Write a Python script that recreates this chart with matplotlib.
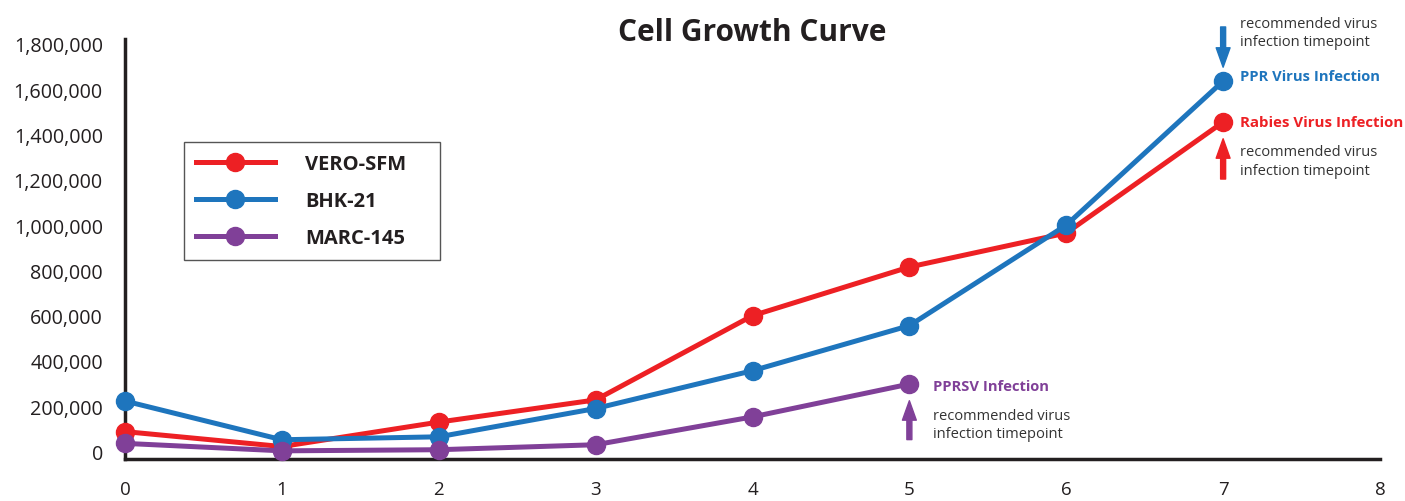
import matplotlib.pyplot as plt
from matplotlib.ticker import FuncFormatter

# days (x) and cell counts (y)
days = [0, 1, 2, 3, 4, 5, 6, 7]
vero_sfm = [88000, 22000, 130000, 228000, 600000, 815000, 965000, 1455000]
bhk_21 = [223000, 52000, 65000, 190000, 357000, 556000, 1000000, 1636000]
marc_days = [0, 1, 2, 3, 4, 5]
marc_145 = [36000, 3000, 8000, 30000, 153000, 298000]

series_names = ["VERO-SFM", "BHK-21", "MARC-145"]
y_ticks = [0, 200000, 400000, 600000, 800000, 1000000, 1200000, 1400000, 1600000, 1800000]
x_ticks = [0, 1, 2, 3, 4, 5, 6, 7, 8]

RED = "#ED2024"
BLUE = "#1E75BD"
PURPLE = "#804098"
DARK = "#231F20"
GREY = "#333333"

plt.rcParams['font.family'] = ['Open Sans', 'DejaVu Sans']

fig = plt.figure(figsize=(14.05, 5.02), dpi=100)
ax = fig.add_axes([125 / 1405, 1 - 460 / 502, (1380 - 125) / 1405, 420 / 502])

line_kw = dict(linewidth=3.6, marker='o', markersize=13, clip_on=False, zorder=5)
ax.plot(days, vero_sfm, color=RED, label=series_names[0], **line_kw)
ax.plot(days, bhk_21, color=BLUE, label=series_names[1], **line_kw)
ax.plot(marc_days, marc_145, color=PURPLE, label=series_names[2], **line_kw)

ax.set_xlim(0, 8)
ax.set_ylim(-33000, 1822000)
ax.set_xticks(x_ticks)
ax.set_yticks(y_ticks)
ax.yaxis.set_major_formatter(FuncFormatter(lambda v, p: f"{int(v):,}"))
ax.tick_params(axis='both', length=0, labelcolor=DARK)
ax.tick_params(axis='y', pad=16, labelsize=14.2)
ax.tick_params(axis='x', pad=15, labelsize=13.5)

for s in ['top', 'right']:
    ax.spines[s].set_visible(False)
for s in ['left', 'bottom']:
    ax.spines[s].set_linewidth(2.5)
    ax.spines[s].set_color(DARK)

ax.text(0.5, 1.017, "Cell Growth Curve", transform=ax.transAxes, ha='center',
        va='center', fontsize=21.5, fontweight='bold', color=DARK)

# legend box stretched to the reference width
leg = ax.legend(loc='upper left',
                bbox_to_anchor=(184 / 1405, 1 - 258 / 502, 256 / 1405, 115 / 502),
                bbox_transform=fig.transFigure, mode='expand', borderaxespad=0,
                frameon=True, fancybox=False, edgecolor='#555555', framealpha=1,
                borderpad=0.6, handlelength=3.9, handletextpad=1.5, labelspacing=0.85,
                prop=dict(weight='bold', size=14.5))
leg.get_frame().set_linewidth(1.0)
for t in leg.get_texts():
    t.set_color(DARK)

rec_text = "recommended virus\ninfection timepoint"
arrow_kw = dict(arrowstyle='simple,head_length=0.7,head_width=0.5,tail_width=0.18',
                mutation_scale=20, shrinkA=0)

# PPR (BHK-21, day 7)
ax.annotate("PPR Virus Infection", xy=(7, bhk_21[7]), xytext=(12, 3.5),
            textcoords='offset points', va='center', ha='left', fontsize=10.6,
            fontweight='bold', color=BLUE)
ax.annotate("", xy=(7, bhk_21[7]), xytext=(0, 39), textcoords='offset points',
            arrowprops=dict(color=BLUE, shrinkB=10, **arrow_kw))
ax.annotate(rec_text, xy=(7, bhk_21[7]), xytext=(12, 35), textcoords='offset points',
            va='center', ha='left', fontsize=10.5, color=GREY, linespacing=1.3)

# Rabies (VERO-SFM, day 7)
ax.annotate("Rabies Virus Infection", xy=(7, vero_sfm[7]), xytext=(12, 0),
            textcoords='offset points', va='center', ha='left', fontsize=10.8,
            fontweight='bold', color=RED)
ax.annotate("", xy=(7, vero_sfm[7]), xytext=(0, -41), textcoords='offset points',
            arrowprops=dict(color=RED, shrinkB=12, **arrow_kw))
ax.annotate(rec_text, xy=(7, vero_sfm[7]), xytext=(12, -28), textcoords='offset points',
            va='center', ha='left', fontsize=10.5, color=GREY, linespacing=1.3)

# PPRSV (MARC-145, day 5)
ax.annotate("PPRSV Infection", xy=(5, marc_145[5]), xytext=(17, -1.5),
            textcoords='offset points', va='center', ha='left', fontsize=10.6,
            fontweight='bold', color=PURPLE)
ax.annotate("", xy=(5, marc_145[5]), xytext=(0, -40), textcoords='offset points',
            arrowprops=dict(color=PURPLE, shrinkB=12, **arrow_kw))
ax.annotate(rec_text, xy=(5, marc_145[5]), xytext=(17, -29), textcoords='offset points',
            va='center', ha='left', fontsize=10.5, color=GREY, linespacing=1.3)

fig.savefig("out.png", dpi=100)
